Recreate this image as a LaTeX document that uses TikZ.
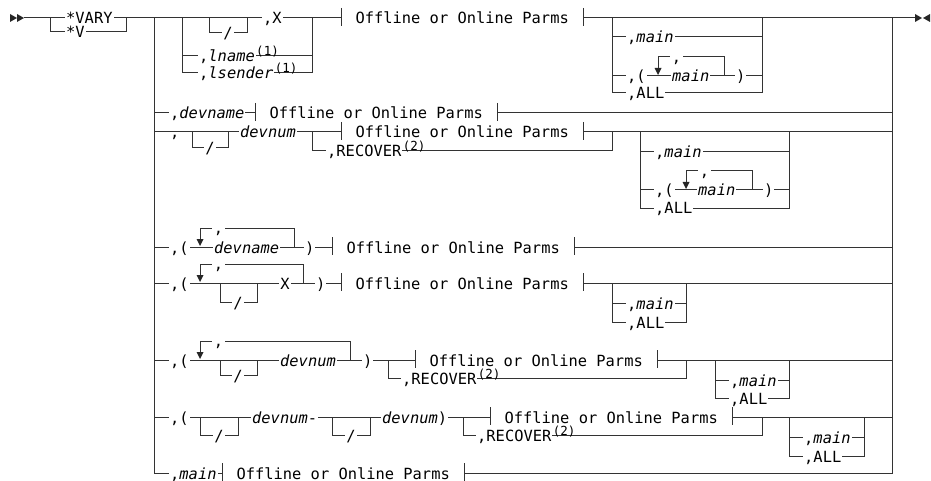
\documentclass[tikz,border=0pt]{standalone}
\usepackage{fontspec}
\newfontfamily\railfont{DejaVu Sans Mono}[ItalicFont={* Oblique}]
\usepackage{tikz}
\usetikzlibrary{positioning}

% repeat loop: arrow x, right x, line y
\newcommand{\rloop}[4]{%
  \fill[tip_fill] (#2-3.5,#4-8) -- (#2+3.5,#4-8) -- (#2,#4-1) -- cycle;
  \draw[line_rail] (#2,#4-8) -- (#2,#4-19) -- (#2+12,#4-19);
  \draw[line_rail] (#2+25,#4-19) -- (#3,#4-19) -- (#3,#4);
  \node[txt_sep] (#1) at (#2+18.5,#4-13.5) {,};
}
% fragment box: name, left bar x, line y
\newcommand{\parms}[3]{%
  \node[box_parms] (#1) at (#2+0.5,#3+6) {Offline or Online Parms};
  \draw[line_rail] (#2,#3-10) -- (#2,#3+8);
  \draw[line_rail] (#2+242,#3-10) -- (#2+242,#3+8);
}

\begin{document}
\begin{tikzpicture}[x=1pt, y=-1pt,
    % rails
    line_rail/.style={draw=black!80, line width=1pt},
    % texts sitting on a rail
    txt_rail/.style={font=\railfont\fontsize{15.4}{18}\selectfont, fill=white,
        inner xsep=1pt, inner ysep=0pt, anchor=base west},
    txt_mid/.style={txt_rail, anchor=base},
    txt_sep/.style={font=\railfont\fontsize{15.4}{18}\selectfont, inner sep=0pt, anchor=base},
    txt_sup/.style={font=\railfont\fontsize{12.5}{14}\selectfont, inner sep=0pt,
        anchor=base west, yshift=6pt},
    box_parms/.style={txt_rail, inner xsep=0pt, minimum width=241pt},
    tip_fill/.style={fill=black!85}
]
\useasboundingbox (0,0) rectangle (931,481);

% --- RAILS ---
\draw[line_rail] (24,18) -- (915,18);
\draw[line_rail] (50,18) |- (126,32) -- (126,18);
\draw[line_rail] (154,18) |- (892,473) -- (892,18);
\foreach \y in {113,132,247,283,360,417}
    \draw[line_rail] (154,\y) -- (892,\y);

% row 1
\draw[line_rail] (182,18) |- (312,73) -- (312,18);
\draw[line_rail] (182,56) -- (312,56);
\draw[line_rail] (209,18) |- (247,33) -- (247,18);
\draw[line_rail] (612,18) |- (762,93) -- (762,18);
\draw[line_rail] (612,37) -- (762,37);
\draw[line_rail] (612,76) -- (762,76);

% row 3
\draw[line_rail] (192,132) |- (228,148) -- (228,132);
\draw[line_rail] (312,132) |- (612,151) -- (612,132);
\draw[line_rail] (640,132) |- (789,208) -- (789,132);
\draw[line_rail] (640,152) -- (789,152);
\draw[line_rail] (640,190) -- (789,190);

% row 5
\draw[line_rail] (220,283) |- (257,302) -- (257,283);
\draw[line_rail] (612,283) |- (686,322) -- (686,283);
\draw[line_rail] (612,303) -- (686,303);

% row 6
\draw[line_rail] (220,360) |- (257,375) -- (257,360);
\draw[line_rail] (388,360) |- (686,378) -- (686,360);
\draw[line_rail] (715,360) |- (789,398) -- (789,360);
\draw[line_rail] (715,380) -- (789,380);

% row 7
\draw[line_rail] (200,417) |- (238,435) -- (238,417);
\draw[line_rail] (332,417) |- (370,435) -- (370,417);
\draw[line_rail] (463,417) |- (762,435) -- (762,417);
\draw[line_rail] (789,417) |- (864,456) -- (864,417);
\draw[line_rail] (789,437) -- (864,437);

% --- START / END ---
\fill[tip_fill] (10,14) -- (17,18) -- (10,22) -- cycle;
\fill[tip_fill] (17,14) -- (24,18) -- (17,22) -- cycle;
\fill[tip_fill] (915,14) -- (922,18) -- (915,22) -- cycle;
\fill[tip_fill] (930,14) -- (923,18) -- (930,22) -- cycle;

% --- TEXTS ---
\node[txt_rail] (vary) at (65,24) {*VARY};
\node[txt_rail] (v) at (65,38) {*V};

% row 1
\node[txt_mid] (slash1) at (228,39) {/};
\node[txt_rail] (x1) at (262,24) {,X};
\node[txt_rail] (lname) at (198,62) {,\textit{lname}};
\node[txt_sup] (sup_lname) at (lname.base east) {(1)};
\node[txt_rail] (lsender) at (198,79) {,\textit{lsender}};
\node[txt_sup] (sup_lsender) at (lsender.base east) {(1)};
\parms{p1}{341}{18}
\node[txt_rail] (main1a) at (626,43) {,\textit{main}};
\node[txt_rail] (open1) at (626,82) {,(};
\node[txt_rail] (main1b) at (671,82) {\textit{main}};
\node[txt_rail] (close1) at (735,82) {)};
\node[txt_rail] (all1) at (626,99) {,ALL};
\rloop{sep1}{658}{724}{76}

% row 2
\node[txt_rail] (devname2) at (169,119) {,\textit{devname}};
\parms{p2}{255}{113}

% row 3
\node[txt_rail] (comma3) at (169,138) {,};
\node[txt_mid] (slash3) at (210,154) {/};
\node[txt_rail] (devnum3) at (239,138) {\textit{devnum}};
\parms{p3}{341}{132}
\node[txt_rail] (rec3) at (326,157) {,RECOVER};
\node[txt_sup] (sup_rec3) at (rec3.base east) {(2)};
\node[txt_rail] (main3a) at (654,158) {,\textit{main}};
\node[txt_rail] (open3) at (654,196) {,(};
\node[txt_rail] (main3b) at (697,196) {\textit{main}};
\node[txt_rail] (close3) at (763,196) {)};
\node[txt_rail] (all3) at (654,214) {,ALL};
\rloop{sep3}{686}{752}{190}

% row 4
\node[txt_rail] (open4) at (169,253) {,(};
\node[txt_rail] (devname4) at (213,253) {\textit{devname}};
\node[txt_rail] (close4) at (304,253) {)};
\rloop{sep4}{200}{294}{247}
\parms{p4}{332}{247}

% row 5
\node[txt_rail] (open5) at (169,289) {,(};
\node[txt_mid] (slash5) at (238,308) {/};
\node[txt_mid] (x5) at (285,289) {X};
\node[txt_rail] (close5) at (315,289) {)};
\rloop{sep5}{200}{303}{283}
\parms{p5}{341}{283}
\node[txt_rail] (main5) at (626,309) {,\textit{main}};
\node[txt_rail] (all5) at (626,328) {,ALL};

% row 6
\node[txt_rail] (open6) at (169,366) {,(};
\node[txt_mid] (slash6) at (238,381) {/};
\node[txt_rail] (devnum6) at (279,366) {\textit{devnum}};
\node[txt_rail] (close6) at (362,366) {)};
\rloop{sep6}{200}{350}{360}
\parms{p6}{415}{360}
\node[txt_rail] (rec6) at (401,384) {,RECOVER};
\node[txt_sup] (sup_rec6) at (rec6.base east) {(2)};
\node[txt_rail] (main6) at (729,386) {,\textit{main}};
\node[txt_rail] (all6) at (729,404) {,ALL};

% row 7
\node[txt_rail] (open7) at (169,423) {,(};
\node[txt_mid] (slash7a) at (219,441) {/};
\node[txt_rail] (devnum7a) at (251,423) {\textit{devnum}-};
\node[txt_mid] (slash7b) at (351,441) {/};
\node[txt_rail] (devnum7b) at (381,423) {\textit{devnum})};
\parms{p7}{490}{417}
\node[txt_rail] (rec7) at (476,441) {,RECOVER};
\node[txt_sup] (sup_rec7) at (rec7.base east) {(2)};
\node[txt_rail] (main7) at (803,443) {,\textit{main}};
\node[txt_rail] (all7) at (803,462) {,ALL};

% row 8
\node[txt_rail] (main8) at (169,479) {,\textit{main}};
\parms{p8}{222}{473}

\end{tikzpicture}
\end{document}
